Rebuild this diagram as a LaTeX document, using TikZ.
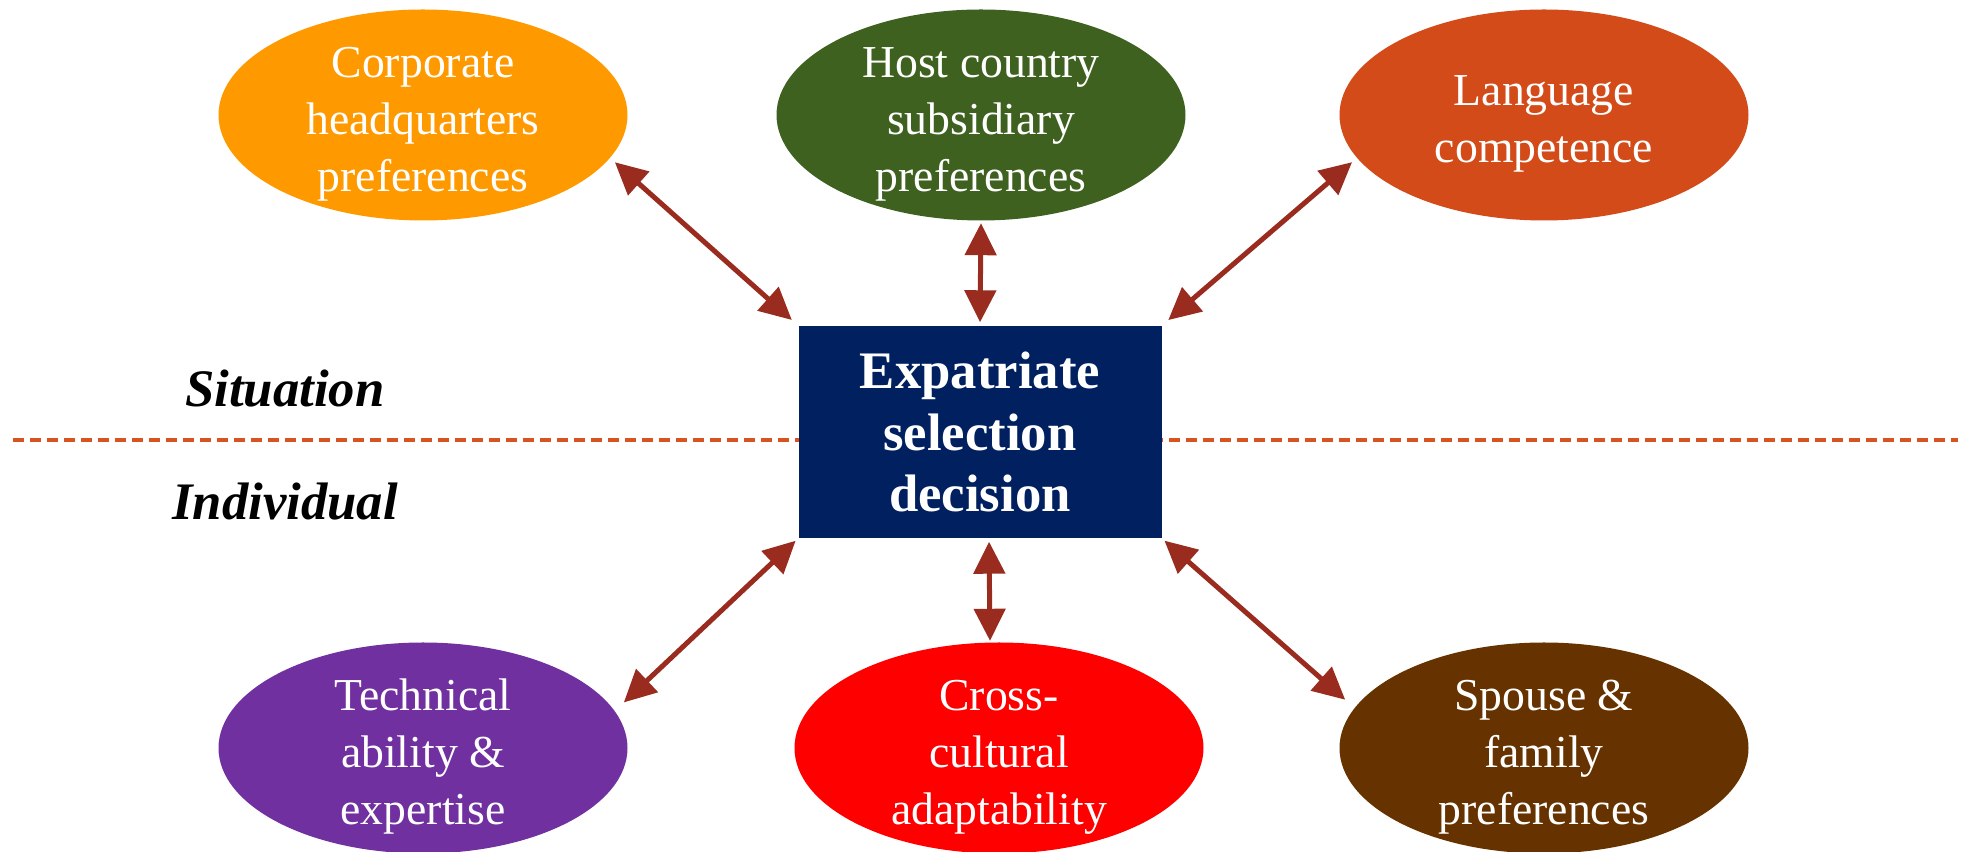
\documentclass[tikz,border=0pt]{standalone}
\usepackage{fontspec}
\setmainfont{Liberation Serif}
\usetikzlibrary{shapes.geometric, arrows.meta}

\definecolor{hqorange}{HTML}{FF9900}
\definecolor{hostgreen}{HTML}{3F6120}
\definecolor{langorange}{HTML}{D24B18}
\definecolor{techpurple}{HTML}{7030A0}
\definecolor{crossred}{HTML}{FF0000}
\definecolor{spousebrown}{HTML}{663300}
\definecolor{boxblue}{HTML}{002060}
\definecolor{arrowred}{HTML}{9A2C1F}
\definecolor{sepline}{HTML}{D5541F}

\newcommand{\topstrut}{\rule{0pt}{13.7pt}}

\begin{document}
\begin{tikzpicture}[x=0.1mm, y=-0.1mm,
    factor/.style={ellipse, minimum width=40.9mm, minimum height=21.1mm, inner xsep=0pt, inner ysep=-3mm,
        text=white, align=center, font=\fontsize{13}{16.2}\selectfont},
    biarrow/.style={{Triangle[length=3.2mm,width=3.1mm]}-{Triangle[length=3.2mm,width=3.1mm]},
        line width=0.5mm, arrowred},
    side/.style={font=\fontsize{15}{18}\selectfont\bfseries\itshape}]
    \useasboundingbox (0,0) rectangle (1966,852);
    % situation / individual divider
    \draw[sepline, line width=0.4mm, dash pattern=on 1.1mm off 0.6mm] (13,440) -- (1958,440);
    \node[fill=boxblue, minimum width=36.3mm, minimum height=21.2mm, inner sep=0pt, text=white,
        align=center, font=\fontsize{15}{17.6}\selectfont\bfseries] (decision) at (980,432)
        {Expatriate\\selection\\decision};
    \node[side] (situation) at (285,389) {Situation};
    \node[side] (individual) at (285,502) {Individual};
    % situation factors
    \node[factor, fill=hqorange] (hq) at (423,115) {\topstrut Corporate\\headquarters\\preferences};
    \node[factor, fill=hostgreen] (host) at (981,115) {\topstrut Host country\\subsidiary\\preferences};
    \node[factor, fill=langorange] (lang) at (1544,115) {\topstrut Language\\competence};
    % individual factors
    \node[factor, fill=techpurple] (tech) at (423,748) {\topstrut Technical\\ability \&\\expertise};
    \node[factor, fill=crossred] (cross) at (999,748) {\topstrut Cross-\\cultural\\adaptability};
    \node[factor, fill=spousebrown] (spouse) at (1544,748) {\topstrut Spouse \&\\family\\preferences};
    % links
    \draw[biarrow, shorten <=0.6mm, shorten >=0.8mm] (hq.-13) -- (decision.north west);
    \draw[biarrow, shorten <=0.2mm, shorten >=0.3mm] (host.south) -- (decision.north);
    \draw[biarrow, shorten <=0.6mm, shorten >=0.8mm] (lang.-167) -- (decision.north east);
    \draw[biarrow, shorten <=1.2mm, shorten >=0.3mm] (tech.11.5) -- (decision.south west);
    \draw[biarrow, shorten <=0.3mm, shorten >=0.1mm] ([xshift=0.9mm]decision.south) -- ([xshift=-0.9mm]cross.north);
    \draw[biarrow, shorten <=1.2mm, shorten >=0.3mm] (spouse.168.5) -- (decision.south east);
\end{tikzpicture}
\end{document}
